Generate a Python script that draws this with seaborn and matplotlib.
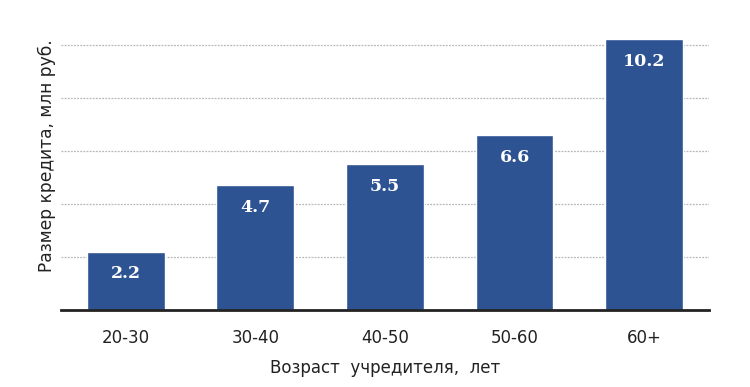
import matplotlib
matplotlib.use("Agg")
import matplotlib.pyplot as plt
import seaborn as sns
import pandas as pd

# data
age_groups = ["20-30", "30-40", "40-50", "50-60", "60+"]
loan_size = [2.2, 4.7, 5.5, 6.6, 10.2]
grid_levels = [2, 4, 6, 8, 10]

sns.set_style("white")
plt.rcParams["font.family"] = ["DejaVu Sans"]

df = pd.DataFrame({"age": age_groups, "loan": loan_size})

fig = plt.figure(figsize=(7.5, 3.87), dpi=100)
ax = fig.add_axes([0.0813, 0.199, 0.864, 0.72])

sns.barplot(data=df, x="age", y="loan", color="#2d5392", saturation=1,
            width=0.6, ax=ax, zorder=3)

ax.set_xlim(-0.5, 4.5)
ax.set_ylim(0, 10.5)

# dotted gridlines
for lvl in grid_levels:
    ax.axhline(lvl, color="#b8b8b8", lw=0.9, ls=(0, (1.5, 1)), zorder=1)

# value labels inside bars
for i, v in enumerate(loan_size):
    ax.annotate(f"{v}", xy=(i, v), xytext=(0, -16), textcoords="offset points",
                ha="center", va="center", color="white", fontsize=12.5,
                fontweight="bold", family="DejaVu Serif", zorder=4)

ax.set_yticks([])
ax.tick_params(axis="x", length=0, pad=14, labelsize=12, colors="#222222")
for side in ["top", "right", "left"]:
    ax.spines[side].set_visible(False)
ax.spines["bottom"].set_color("#222222")
ax.spines["bottom"].set_linewidth(2)
ax.spines["bottom"].set_zorder(5)

ax.set_xlabel("Возраст  учредителя,  лет", fontsize=12, color="#222222", labelpad=8)
ax.set_ylabel("Размер кредита, млн руб.", fontsize=12.3, color="#222222")
ax.yaxis.set_label_coords(-0.008, 0.553)

fig.savefig("out.png", dpi=100)
